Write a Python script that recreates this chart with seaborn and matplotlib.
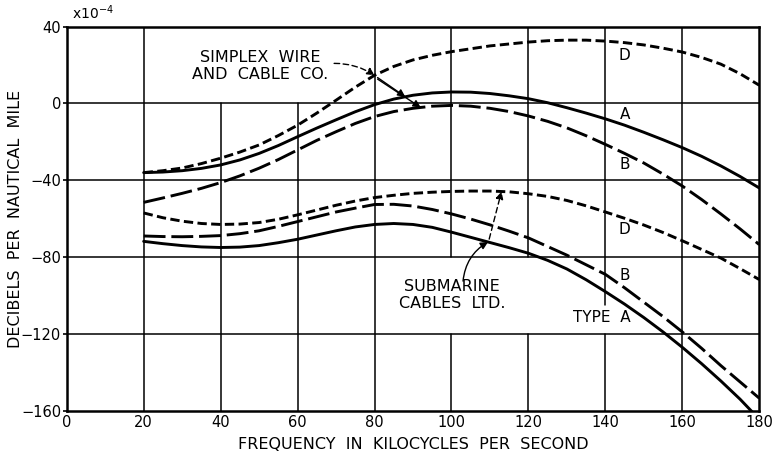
import numpy as np
import pandas as pd
import matplotlib
matplotlib.use("Agg")
import matplotlib.pyplot as plt
import seaborn as sns

# Frequency in kilocycles per second
freq = [20, 25, 30, 35, 40, 45, 50, 55, 60, 65, 70, 75, 80, 85, 90, 95, 100,
        105, 110, 115, 120, 125, 130, 135, 140, 145, 150, 155, 160, 165, 170,
        175, 180]

# Attenuation change, units of 1e-4 dB per nautical mile
simplex_D = [-36, -35, -33.6, -31.3, -28.5, -25.3, -21.6, -16.7, -11.3, -5,
             1.7, 8.5, 14.7, 19.3, 22.7, 25.1, 27, 28.5, 30, 31, 32, 32.7, 33,
             33, 32.5, 31.7, 30.5, 28.8, 26.8, 24, 20.5, 15.5, 9.5]
simplex_A = [-36, -35.7, -35, -33.8, -32, -29.4, -26, -21.9, -17.3, -12.8,
             -8.5, -4.3, -0.6, 2.3, 4.3, 5.5, 6, 5.9, 5.2, 4, 2.5, 0.4, -2.2,
             -5, -8, -11.3, -15, -18.9, -23, -27.5, -32.5, -38, -44]
simplex_B = [-51.5, -49.2, -46.8, -44.2, -41.2, -37.7, -33.7, -29.2, -24.2,
             -19.2, -14.7, -10.4, -6.8, -4.2, -2.5, -1.4, -1, -1.4, -2.5, -4.2,
             -6.5, -9.3, -12.7, -16.8, -21.3, -26, -31, -36.8, -43, -50, -57.5,
             -65.3, -73.5]
submarine_D = [-57, -59.5, -61.3, -62.5, -63, -62.8, -62, -60.3, -58, -55.5,
               -53, -50.8, -49, -47.8, -46.8, -46.2, -45.8, -45.6, -45.6, -46,
               -47, -48.4, -50.5, -53.3, -56.5, -59.8, -63.3, -67.2, -71.5,
               -76, -80.5, -86, -91.7]
submarine_B = [-69, -69.3, -69.4, -69.2, -68.8, -67.8, -66.3, -64, -61.5, -59,
               -56.5, -54.5, -52.6, -52.5, -53.4, -55.2, -57.5, -60.2, -63.2,
               -66.5, -70, -74.5, -79, -84, -89, -96, -103.5, -111, -119,
               -127.5, -136.5, -145, -153.5]
submarine_A = [-71.8, -73, -74, -74.7, -75, -74.8, -74, -72.5, -70.7, -68.5,
               -66.3, -64.3, -63, -62.5, -63, -64.5, -67, -69.7, -72.4, -75.1,
               -78, -81.7, -86.2, -91.8, -98, -104.5, -111.5, -119, -127,
               -135.5, -144.5, -154, -164.5]

x_ticks = [0, 20, 40, 60, 80, 100, 120, 140, 160, 180]
y_ticks = [-160, -120, -80, -40, 0, 40]

series = {
    "Simplex D": simplex_D,
    "Simplex A": simplex_A,
    "Simplex B": simplex_B,
    "Submarine D": submarine_D,
    "Submarine B": submarine_B,
    "Submarine A": submarine_A,
}
df = pd.concat(
    [pd.DataFrame({"freq": freq, "value": v, "curve": k}) for k, v in series.items()],
    ignore_index=True,
)

sns.set_style("white")
plt.rcParams["font.family"] = ["DejaVu Sans"]
plt.rcParams["axes.unicode_minus"] = True
plt.rcParams["text.color"] = "black"
plt.rcParams["axes.labelcolor"] = "black"

fig = plt.figure(figsize=(7.76, 4.55), dpi=100)
ax = fig.add_axes([66.7 / 776, 1 - 410.7 / 455, 692.6 / 776, 384.0 / 455])

short_dash = (3.2, 1.5)
long_dash = (7.5, 2.0)
dashes = {
    "Simplex D": short_dash,
    "Simplex A": "",
    "Simplex B": long_dash,
    "Submarine D": short_dash,
    "Submarine B": long_dash,
    "Submarine A": "",
}
sns.lineplot(
    data=df, x="freq", y="value", hue="curve", style="curve",
    palette={k: "black" for k in series}, dashes=dashes,
    linewidth=2.1, legend=False, ax=ax, zorder=3,
)

xmin, xmax, ymin, ymax = 0, 180, -160, 40
ax.set_xlim(xmin, xmax)
ax.set_ylim(ymin, ymax)


def yfrac(v):
    return (v - ymin) / (ymax - ymin)


# Grid, with openings left for the lettering
vgrid = {
    20: [(-160, 40)],
    40: [(-160, 0)],
    60: [(-160, 0)],
    80: [(-160, 40)],
    100: [(-160, -120), (-80, 40)],
    120: [(-160, -120), (-80, 40)],
    140: [(-160, -120), (-105, 40)],
    160: [(-160, 40)],
}
for xv, segs in vgrid.items():
    for a, b in segs:
        ax.axvline(xv, yfrac(a), yfrac(b), color="black", lw=1.1, zorder=1)
for yv in [0, -40, -80, -120]:
    ax.axhline(yv, color="black", lw=1.1, zorder=1)

for s in ax.spines.values():
    s.set_linewidth(1.8)
    s.set_color("black")

ax.set_xticks(x_ticks)
ax.set_yticks(y_ticks)
ax.set_xticklabels([str(t) for t in x_ticks])
ax.set_yticklabels([str(t).replace("-", "\u2212") for t in y_ticks])
ax.tick_params(axis="x", length=0, pad=3, labelsize=10.5, colors="black")
ax.tick_params(axis="y", length=3, width=1.2, pad=1, labelsize=10.5,
               colors="black", direction="out", left=True)

ax.set_xlabel("FREQUENCY  IN  KILOCYCLES  PER  SECOND", fontsize=11.5,
              va="center", color="black")
ax.xaxis.set_label_coords(0.5, -0.088)
ax.set_ylabel("DECIBELS  PER  NAUTICAL  MILE", fontsize=11.5, va="center",
              color="black")
ax.yaxis.set_label_coords(-0.0746, 0.5)

ax.text(0.008, 1.012, r"x10$^{-4}$", transform=ax.transAxes, ha="left",
        va="bottom", fontsize=10, color="black")

# Curve letters
lab_kw = dict(fontsize=11, ha="center", va="center", color="black")
ax.text(145, 25, "D", **lab_kw)
ax.text(145, -5.5, "A", **lab_kw)
ax.text(145, -32, "B", **lab_kw)
ax.text(145, -65.7, "D", **lab_kw)
ax.text(145, -89.5, "B", **lab_kw)
ax.text(146.5, -111.4, "TYPE  A", fontsize=11, ha="right", va="center",
        color="black")

# Manufacturer notes with leaders
ax.text(50.3, 19.6, "SIMPLEX  WIRE\nAND  CABLE  CO.", fontsize=11.5,
        ha="center", va="center", multialignment="center", linespacing=1.2,
        color="black")
ax.text(100.1, -99.7, "SUBMARINE\nCABLES  LTD.", fontsize=11.5,
        ha="center", va="center", multialignment="center", linespacing=1.2,
        color="black")


def on_curve(f, vals):
    return (f, float(np.interp(f, freq, vals)))


head = dict(arrowstyle="-|>", color="black", lw=1.0, mutation_scale=11,
            shrinkA=0, shrinkB=0)
pD = on_curve(80, simplex_D)
ax.annotate("", xy=pD, xytext=(69.5, 20.9),
            arrowprops=dict(head, linestyle=(0, (4, 2.5)),
                            connectionstyle="arc3,rad=-0.15"))
ax.annotate("", xy=on_curve(88, simplex_A), xytext=(pD[0] + 0.8, pD[1] - 1.2),
            arrowprops=dict(head))
ax.annotate("", xy=on_curve(92, simplex_B), xytext=(pD[0] + 0.8, pD[1] - 2.0),
            arrowprops=dict(head))

pA = on_curve(109.5, submarine_A)
ax.annotate("", xy=pA, xytext=(103.0, -92.5),
            arrowprops=dict(head, connectionstyle="arc3,rad=-0.25"))
ax.annotate("", xy=on_curve(113, submarine_D), xytext=(pA[0] + 0.3, pA[1] + 1.5),
            arrowprops=dict(head, linestyle=(0, (4, 2.5))))

fig.savefig("out.png", dpi=100)
